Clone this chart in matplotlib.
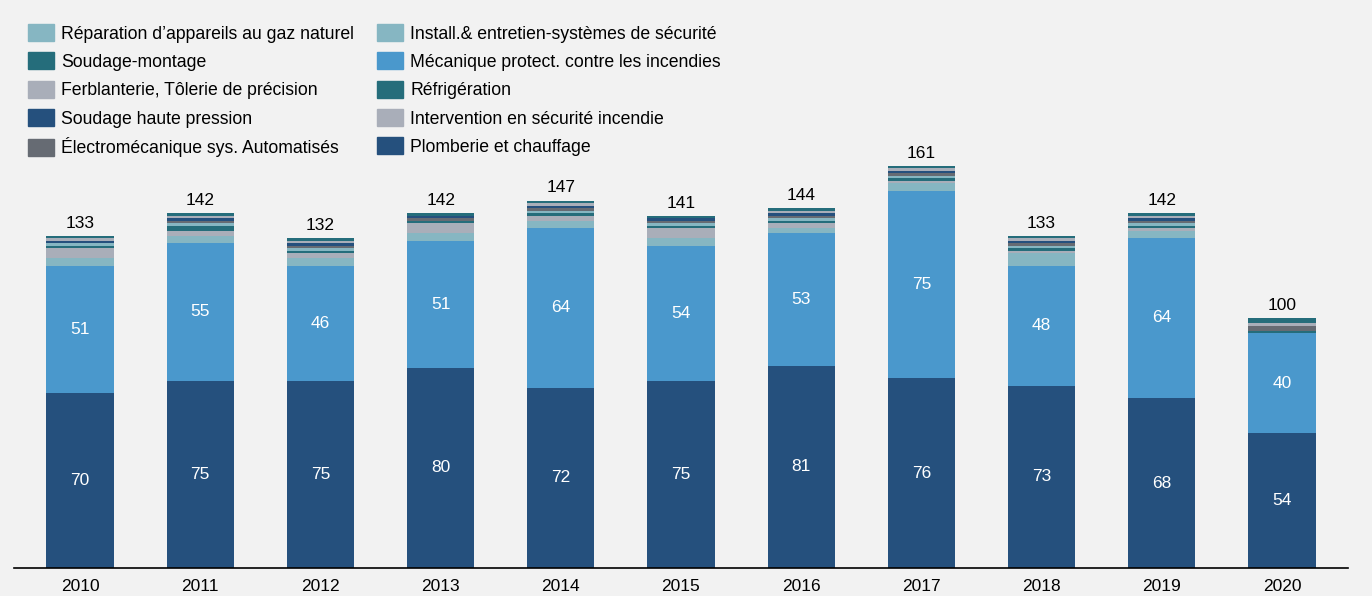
import numpy as np
import matplotlib.pyplot as plt
from matplotlib.patches import Patch

plt.rcParams['font.family'] = ['Liberation Sans', 'DejaVu Sans']

years = ["2010", "2011", "2012", "2013", "2014", "2015", "2016", "2017", "2018", "2019", "2020"]
totals = [133, 142, 132, 142, 147, 141, 144, 161, 133, 142, 100]

# series, bottom to top
plomberie = [70, 75, 75, 80, 72, 75, 81, 76, 73, 68, 54]
mecanique = [51, 55, 46, 51, 64, 54, 53, 75, 48, 64, 40]
install = [3, 3, 3, 3, 3, 3, 2, 3, 5, 3, 0]
intervention = [4, 2, 2, 4, 2, 4, 2, 1, 1, 1, 0]
refrigeration = [1, 2, 1, 1, 1, 1, 1, 1, 1, 1, 1]
reparation = [1, 1, 1, 0, 1, 1, 1, 1, 1, 1, 0]
electromeca = [0, 1, 1, 1, 1, 1, 1, 1, 1, 1, 2]
soudage_hp = [1, 1, 1, 1, 1, 1, 1, 1, 1, 1, 0]
ferblanterie = [1, 1, 1, 0, 1, 0, 1, 1, 1, 1, 1]
soudage_montage = [1, 1, 1, 1, 1, 1, 1, 1, 1, 1, 2]

c_dblue = "#25507d"
c_lblue = "#4a98cc"
c_lteal = "#86b6c2"
c_grey = "#a9aeb9"
c_teal = "#256d7b"
c_dgrey = "#666b73"
bg = "#f2f2f2"

stack = [
    (plomberie, c_dblue),
    (mecanique, c_lblue),
    (install, c_lteal),
    (intervention, c_grey),
    (refrigeration, c_teal),
    (reparation, c_lteal),
    (electromeca, c_dgrey),
    (soudage_hp, c_dblue),
    (ferblanterie, c_grey),
    (soudage_montage, c_teal),
]

fig = plt.figure(figsize=(13.72, 5.96), dpi=100, facecolor=bg)
ax = fig.add_axes([14 / 1372, 28 / 596, 1334 / 1372, 425 / 596])
ax.set_facecolor(bg)

x = np.arange(len(years))
w = 0.56
bottom = np.zeros(len(years))
for vals, col in stack:
    vals = np.array(vals, dtype=float)
    ax.bar(x, vals, w, bottom=bottom, color=col, linewidth=0)
    bottom += vals

fs = 12.5
for i in range(len(years)):
    ax.text(x[i], plomberie[i] / 2, str(plomberie[i]), ha='center', va='center',
            color='white', fontsize=fs)
    ax.text(x[i], plomberie[i] + mecanique[i] / 2, str(mecanique[i]), ha='center',
            va='center', color='white', fontsize=fs)
    ax.text(x[i], bottom[i] + 2, str(totals[i]), ha='center', va='bottom',
            color='black', fontsize=fs)

ax.set_xlim(-0.55, 10.55)
ax.set_ylim(0, 170)
ax.set_xticks(x)
ax.set_xticklabels(years, fontsize=fs)
ax.tick_params(axis='x', length=0, pad=8)
ax.set_yticks([])
for s in ['top', 'right', 'left']:
    ax.spines[s].set_visible(False)
ax.spines['bottom'].set_color('black')
ax.spines['bottom'].set_linewidth(1.2)

handles = [
    Patch(color=c_lteal, label="Réparation d\u2019appareils au gaz naturel"),
    Patch(color=c_teal, label="Soudage-montage"),
    Patch(color=c_grey, label="Ferblanterie, Tôlerie de précision"),
    Patch(color=c_dblue, label="Soudage haute pression"),
    Patch(color=c_dgrey, label="Électromécanique sys. Automatisés"),
    Patch(color=c_lteal, label="Install.& entretien-systèmes de sécurité"),
    Patch(color=c_lblue, label="Mécanique protect. contre les incendies"),
    Patch(color=c_teal, label="Réfrigération"),
    Patch(color=c_grey, label="Intervention en sécurité incendie"),
    Patch(color=c_dblue, label="Plomberie et chauffage"),
]
fig.legend(handles=handles, ncol=2, loc='upper left', bbox_to_anchor=(21 / 1372, 1 - 17 / 596),
           frameon=False, fontsize=12.7, handlelength=1.48, handleheight=1.1,
           handletextpad=0.38, columnspacing=1.33, labelspacing=0.56, borderaxespad=0)

plt.savefig("out.png", dpi=100, facecolor=bg)
